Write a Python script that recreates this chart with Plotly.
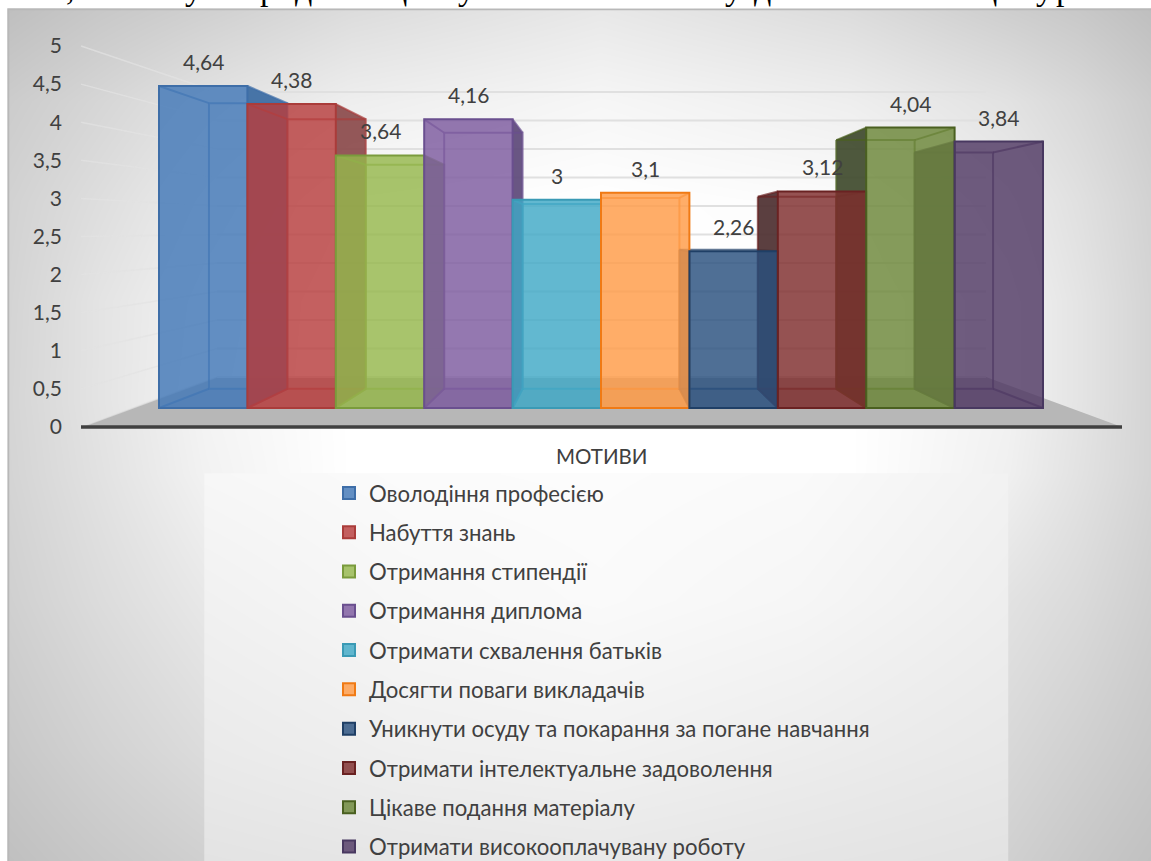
import plotly.graph_objects as go

# ---- data ----
motives = [
    "Оволодіння професією", "Набуття знань", "Отримання стипендії", "Отримання диплома",
    "Отримати схвалення батьків", "Досягти поваги викладачів",
    "Уникнути осуду та покарання за погане навчання", "Отримати інтелектуальне задоволення",
    "Цікаве подання матеріалу", "Отримати високооплачувану роботу",
]
scores = [4.64, 4.38, 3.64, 4.16, 3, 3.1, 2.26, 3.12, 4.04, 3.84]
y_ticks = [0, 0.5, 1, 1.5, 2, 2.5, 3, 3.5, 4, 4.5, 5]
axis_title = "МОТИВИ"

front_colors = ["#6490c4", "#c46060", "#a8c46c", "#9478b0", "#62b8d0",
                "#ffad68", "#4f6f95", "#955252", "#869c5c", "#705d80"]
edge_colors = ["#3e6ea8", "#aa3c3a", "#7a9b3c", "#6a4f8f", "#3a9ab5",
               "#f07a14", "#1f3f66", "#6a2222", "#4a6020", "#483860"]
side_colors = ["#3a6aa2", "#8b4a4b", "#7a9450", "#5c4878", "#3a94ae",
               "#c8843a", "#2b4a70", "#4d2f30", "#3f4a2c", "#4b3d60"]

# Line of body text sitting just above the chart, mostly cut off by the chart frame
text_above = [(70, ","), (193, "у"), (268, "р"), (303, "д"), (398, "ц"), (466, "у"),
              (733, "у"), (762, "д"), (988, "ц"), (1044, "у"), (1064, "р")]

# Background grey levels on a coarse grid, smoothed by the heatmap
bg_x = [8, 100, 205, 350, 600, 850, 1007, 1080, 1151]
bg_y = [9, 100, 200, 300, 400, 474, 600, 750, 861]
bg_z = [
    [0xbf, 0xc8, 0xd0, 0xdc, 0xe8, 0xdc, 0xce, 0xc8, 0xbf],
    [0xcc, 0xd6, 0xe2, 0xee, 0xf6, 0xee, 0xe2, 0xd8, 0xcc],
    [0xd2, 0xde, 0xec, 0xfb, 0xff, 0xfb, 0xec, 0xe0, 0xd2],
    [0xd4, 0xe4, 0xf2, 0xff, 0xff, 0xff, 0xf2, 0xe4, 0xd4],
    [0xd5, 0xe4, 0xf4, 0xff, 0xff, 0xff, 0xf2, 0xe4, 0xd4],
    [0xd4, 0xe2, 0xf2, 0xff, 0xff, 0xff, 0xf0, 0xe2, 0xd4],
    [0xd0, 0xdc, 0xe8, 0xf0, 0xf4, 0xf0, 0xe2, 0xda, 0xcf],
    [0xc8, 0xd2, 0xdc, 0xe2, 0xe6, 0xe2, 0xd8, 0xd0, 0xc8],
    [0xc0, 0xc8, 0xd0, 0xd6, 0xd8, 0xd6, 0xd0, 0xc8, 0xc1],
]
# Panel behind the legend has its own, slightly different shading
panel_x = [205, 400, 600, 800, 1007]
panel_y = [474, 600, 750, 861]
panel_z = [
    [0xf7, 0xfb, 0xfc, 0xfa, 0xf2],
    [0xf1, 0xf7, 0xfa, 0xf6, 0xee],
    [0xea, 0xef, 0xf1, 0xed, 0xe8],
    [0xe3, 0xe6, 0xe8, 0xe5, 0xe2],
]

# ---- view geometry (pixels of the 1151x861 page) ----
W, H = 1151, 861
SLOT_LEFT, SLOT_W = 159.0, 88.4          # left edge of the first bar, width of one bar
AXIS_ZERO, AXIS_UNIT = 427.0, 76.2       # value scale on the leading edge of the floor
BAR_ZERO, BAR_UNIT = 408.0, 69.4         # value scale on the bars' front plane
WALL_ZERO, WALL_UNIT = 377.0, 57.0       # value scale on the back wall
FLOOR_L, FLOOR_R = 81.0, 1122.0          # leading edge of the floor
WALL_L, WALL_R = 217.0, 986.0            # back wall extent
DEPTH = 0.113                            # how far a bar's back face recedes
VANISH_X, VANISH_V = 5.0, 2.45           # vanishing point in slot / value units
FONT = "Lato"
TEXT = "#404040"
FRONT_ALPHA = 0.82


def slot(px):
    return (px - SLOT_LEFT) / SLOT_W


def axis_v(py):
    return (AXIS_ZERO - py) / AXIS_UNIT


def back(x, v):
    return x + DEPTH * (VANISH_X - x), v + DEPTH * (VANISH_V - v)


def rgba(hex_color, a):
    r, g, b = (int(hex_color[i:i + 2], 16) for i in (1, 3, 5))
    return f"rgba({r},{g},{b},{a})"


def glass(hex_color):
    # Fill that lands on the wanted colour once laid over a white ground
    chans = [int(hex_color[i:i + 2], 16) for i in (1, 3, 5)]
    mixed = [max(0, round((c - (1 - FRONT_ALPHA) * 255) / FRONT_ALPHA)) for c in chans]
    return f"rgba({mixed[0]},{mixed[1]},{mixed[2]},{FRONT_ALPHA})"


def with_edges(centres):
    # Repeats the outer samples so the smoothed image stops right at the outer values
    return [centres[0] - 0.5] + list(centres) + [centres[-1] + 0.5]


def pad_grid(rows):
    rows = [[r[0]] + r + [r[-1]] for r in rows]
    return [rows[0]] + rows + [rows[-1]]


def shading(xs, ys, rows):
    y_units = [axis_v(p) for p in with_edges(ys)][::-1]
    return go.Heatmap(
        x=[slot(p) for p in with_edges(xs)], y=y_units, z=pad_grid(rows)[::-1],
        zsmooth="best", zmin=0, zmax=255, showscale=False, hoverinfo="skip",
        colorscale=[[0, "rgb(0,0,0)"], [1, "rgb(255,255,255)"]], xaxis="x", yaxis="y",
    )


fig = go.Figure()
fig.add_trace(shading(bg_x, bg_y, bg_z))
fig.add_trace(shading(panel_x, panel_y, panel_z))

# Chart frame: only the top and left edges show
fig.add_trace(go.Scatter(
    x=[slot(8.5), slot(8.5), slot(W)], y=[axis_v(H), axis_v(9.5), axis_v(9.5)],
    mode="lines", line=dict(color="#b8b8b8", width=1.5), showlegend=False, hoverinfo="skip",
))

# Floor of the 3D box
fig.add_trace(go.Scatter(
    x=[slot(FLOOR_L), slot(FLOOR_R), slot(WALL_R), slot(WALL_L), slot(FLOOR_L)],
    y=[0, 0, axis_v(WALL_ZERO), axis_v(WALL_ZERO), 0],
    mode="lines", fill="toself", fillcolor="#b7b7b7", line=dict(width=0),
    showlegend=False, hoverinfo="skip",
))

# Gridlines: faint along the left wall, firmer across the back wall
wall_x, wall_y, back_x, back_y = [], [], [], []
for t in y_ticks:
    on_wall = axis_v(WALL_ZERO - WALL_UNIT * t)
    wall_x += [slot(FLOOR_L), slot(WALL_L), None]
    wall_y += [t, on_wall, None]
    back_x += [slot(WALL_L), slot(WALL_R), None]
    back_y += [on_wall, on_wall, None]
fig.add_trace(go.Scatter(
    x=wall_x, y=wall_y, mode="lines", line=dict(color="rgba(226,226,226,0.7)", width=1.5),
    showlegend=False, hoverinfo="skip",
))
fig.add_trace(go.Scatter(
    x=back_x, y=back_y, mode="lines", line=dict(color="#e0e0e0", width=2),
    showlegend=False, hoverinfo="skip",
))

# Axis line along the leading edge of the floor
fig.add_trace(go.Scatter(
    x=[slot(FLOOR_L), slot(FLOOR_R)], y=[0, 0], mode="lines",
    line=dict(color="#404040", width=3.5), showlegend=False, hoverinfo="skip",
))

# Side, bottom and wire lines of each bar, behind all the front faces
for i, v in enumerate(scores):
    x0, x1 = float(i), float(i + 1)
    bl0, bb = back(x0, 0)
    br0, _ = back(x1, 0)
    _, bt = back(x0, v)
    # The side that faces the middle of the chart is the one that reads as solid
    near = x1 if (x0 + x1) / 2 < VANISH_X else x0
    bnear = br0 if near == x1 else bl0
    fig.add_trace(go.Scatter(
        x=[near, bnear, bnear, near, near], y=[v, bt, bb, 0, v],
        mode="lines", fill="toself", fillcolor=rgba(side_colors[i], 0.92), line=dict(width=0),
        xaxis="x2", yaxis="y2", showlegend=False, hoverinfo="skip",
    ))
    fig.add_trace(go.Scatter(
        x=[x0, x1, br0, bl0, x0], y=[0, 0, bb, bb, 0],
        mode="lines", fill="toself", fillcolor=rgba(edge_colors[i], 0.12), line=dict(width=0),
        xaxis="x2", yaxis="y2", showlegend=False, hoverinfo="skip",
    ))
    wire_x = [bl0, br0, br0, bl0, bl0, None, x0, bl0, None, x1, br0, None, x0, bl0, None, x1, br0]
    wire_y = [bt, bt, bb, bb, bt, None, v, bt, None, v, bt, None, 0, bb, None, 0, bb]
    fig.add_trace(go.Scatter(
        x=wire_x, y=wire_y, mode="lines", line=dict(color=rgba(edge_colors[i], 0.7), width=2),
        xaxis="x2", yaxis="y2", showlegend=False, hoverinfo="skip",
    ))

# Front faces
for i, (name, v) in enumerate(zip(motives, scores)):
    fig.add_trace(go.Bar(
        x=[i + 0.5], y=[v], width=1, name=name, legendgroup=name,
        marker=dict(color=glass(front_colors[i]), line=dict(color=edge_colors[i], width=2)),
        xaxis="x3", yaxis="y3", hovertemplate=f"{name}: %{{y}}<extra></extra>",
    ))

annotations = []
for i, v in enumerate(scores):
    annotations.append(dict(
        x=i + 0.5, y=v, xref="x3", yref="y3", yanchor="middle", yshift=24.5,
        text=str(v).replace(".", ","), showarrow=False, font=dict(family=FONT, size=21, color=TEXT),
    ))
annotations.append(dict(
    x=slot(601), y=axis_v(456), xref="x", yref="y", yanchor="middle", text=axis_title,
    showarrow=False, font=dict(family=FONT, size=20.5, color=TEXT),
))
for px, ch in text_above:
    annotations.append(dict(
        x=px / W, y=1 - 9 / H, xref="paper", yref="paper", yanchor="bottom", xanchor="center",
        yshift=1, text=ch, showarrow=False, borderpad=0,
        font=dict(family="Liberation Serif", size=34, color="#000000"),
    ))

x_range = [slot(0), slot(W)]
y_range = [axis_v(H), axis_v(0)]
y_bar_range = [(BAR_ZERO - H) / BAR_UNIT, BAR_ZERO / BAR_UNIT]
hidden = dict(visible=False, showgrid=False, zeroline=False, fixedrange=True)

fig.update_layout(
    width=W, height=H, margin=dict(l=0, r=0, t=0, b=0, pad=0, autoexpand=False),
    paper_bgcolor="#ffffff", plot_bgcolor="rgba(0,0,0,0)",
    autosize=False, separators=", ", barmode="overlay", annotations=annotations,
    showlegend=True,
    legend=dict(
        x=329 / W, y=1 - 472 / H, xanchor="left", yanchor="top",
        bgcolor="rgba(0,0,0,0)", tracegroupgap=7.5, traceorder="grouped",
        font=dict(family=FONT, size=22.15, color=TEXT),
    ),
    xaxis=dict(range=x_range, domain=[0, 1], **hidden),
    yaxis=dict(
        range=y_range, domain=[0, 1], tickmode="array", tickvals=y_ticks, ticks="",
        anchor="free", position=62 / W, showgrid=False, zeroline=False, showline=False,
        tickfont=dict(family=FONT, size=21, color=TEXT), fixedrange=True,
    ),
    xaxis2=dict(range=x_range, overlaying="x", anchor="y2", **hidden),
    yaxis2=dict(range=y_bar_range, overlaying="y", anchor="x2", **hidden),
    xaxis3=dict(range=x_range, overlaying="x", anchor="y3", **hidden),
    yaxis3=dict(range=y_bar_range, overlaying="y", anchor="x3", **hidden),
)

fig.write_html("out.html")
